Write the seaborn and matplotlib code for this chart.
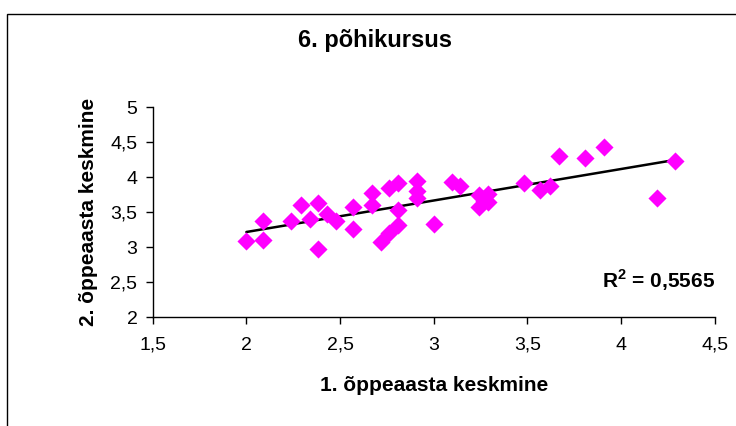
import numpy as np
import pandas as pd
import matplotlib
matplotlib.use("Agg")
import matplotlib.pyplot as plt
import seaborn as sns
from matplotlib.patches import Rectangle

# values
first_year = [2.00, 2.09, 2.09, 2.24, 2.29, 2.34, 2.38, 2.38, 2.43, 2.48,
              2.57, 2.57, 2.67, 2.67, 2.72, 2.76, 2.76, 2.81, 2.81, 2.81,
              2.91, 2.91, 2.91, 3.00, 3.10, 3.14, 3.24, 3.24, 3.27, 3.29,
              3.29, 3.48, 3.57, 3.62, 3.67, 3.81, 3.91, 4.19, 4.29]
second_year = [3.09, 3.37, 3.11, 3.37, 3.61, 3.40, 3.64, 2.97, 3.47, 3.37,
               3.57, 3.26, 3.77, 3.60, 3.07, 3.85, 3.20, 3.92, 3.54, 3.32,
               3.95, 3.80, 3.71, 3.33, 3.93, 3.87, 3.75, 3.58, 3.66, 3.76,
               3.65, 3.92, 3.82, 3.88, 4.30, 4.27, 4.43, 3.71, 4.23]
r2_label = "R$^\\mathbf{2}$ = 0,5565"
x_ticks = [1.5, 2, 2.5, 3, 3.5, 4, 4.5]
y_ticks = [2, 2.5, 3, 3.5, 4, 4.5, 5]

df = pd.DataFrame({"x": first_year, "y": second_year})

sns.set_style("white")
plt.rcParams["font.family"] = ["Liberation Sans", "DejaVu Sans"]
plt.rcParams["mathtext.fontset"] = "custom"
plt.rcParams["mathtext.bf"] = "Liberation Sans:bold"
plt.rcParams["text.color"] = "black"
plt.rcParams["axes.labelcolor"] = "black"
plt.rcParams["xtick.color"] = "black"
plt.rcParams["ytick.color"] = "black"

fig = plt.figure(figsize=(7.36, 4.26), dpi=100)
ax = fig.add_axes([0.2075, 0.2552, 0.7635, 0.4928])

sns.scatterplot(data=df, x="x", y="y", marker="D", s=85, color="#FF00FF",
                linewidth=0, ax=ax, zorder=3)
sns.regplot(data=df, x="x", y="y", scatter=False, ci=None, color="black",
            line_kws={"lw": 1.8}, ax=ax)

ax.set_xlim(1.5, 4.5)
ax.set_ylim(2, 5)
ax.set_xticks(x_ticks)
ax.set_yticks(y_ticks)
fmt = lambda v: f"{v:g}".replace(".", ",")
ax.set_xticklabels([fmt(v) for v in x_ticks])
ax.set_yticklabels([fmt(v) for v in y_ticks])
ax.tick_params(axis="both", direction="out", length=5, width=1,
               colors="black", labelsize=14, bottom=True, left=True)
ax.tick_params(axis="x", pad=9)
ax.tick_params(axis="y", pad=6)
for side in ["top", "right"]:
    ax.spines[side].set_visible(False)
for side in ["left", "bottom"]:
    ax.spines[side].set_color("black")
    ax.spines[side].set_linewidth(1)

ax.set_xlabel("1. õppeaasta keskmine", fontsize=15, fontweight="bold", labelpad=16)
ax.set_ylabel("2. õppeaasta keskmine", fontsize=15, fontweight="bold", labelpad=9)
ax.text(4.5, 2.53, r2_label, fontsize=15, fontweight="bold",
        ha="right", va="center")

fig.text(0.51, 0.905, "6. põhikursus", fontsize=17, fontweight="bold",
         ha="center", va="center")

# outer chart border
fig.patches.append(Rectangle((7 / 736, -0.1), 1.0, 1 - 14 / 426 + 0.1,
                             transform=fig.transFigure, fill=False,
                             edgecolor="black", linewidth=1))

fig.savefig("out.png", dpi=100)
